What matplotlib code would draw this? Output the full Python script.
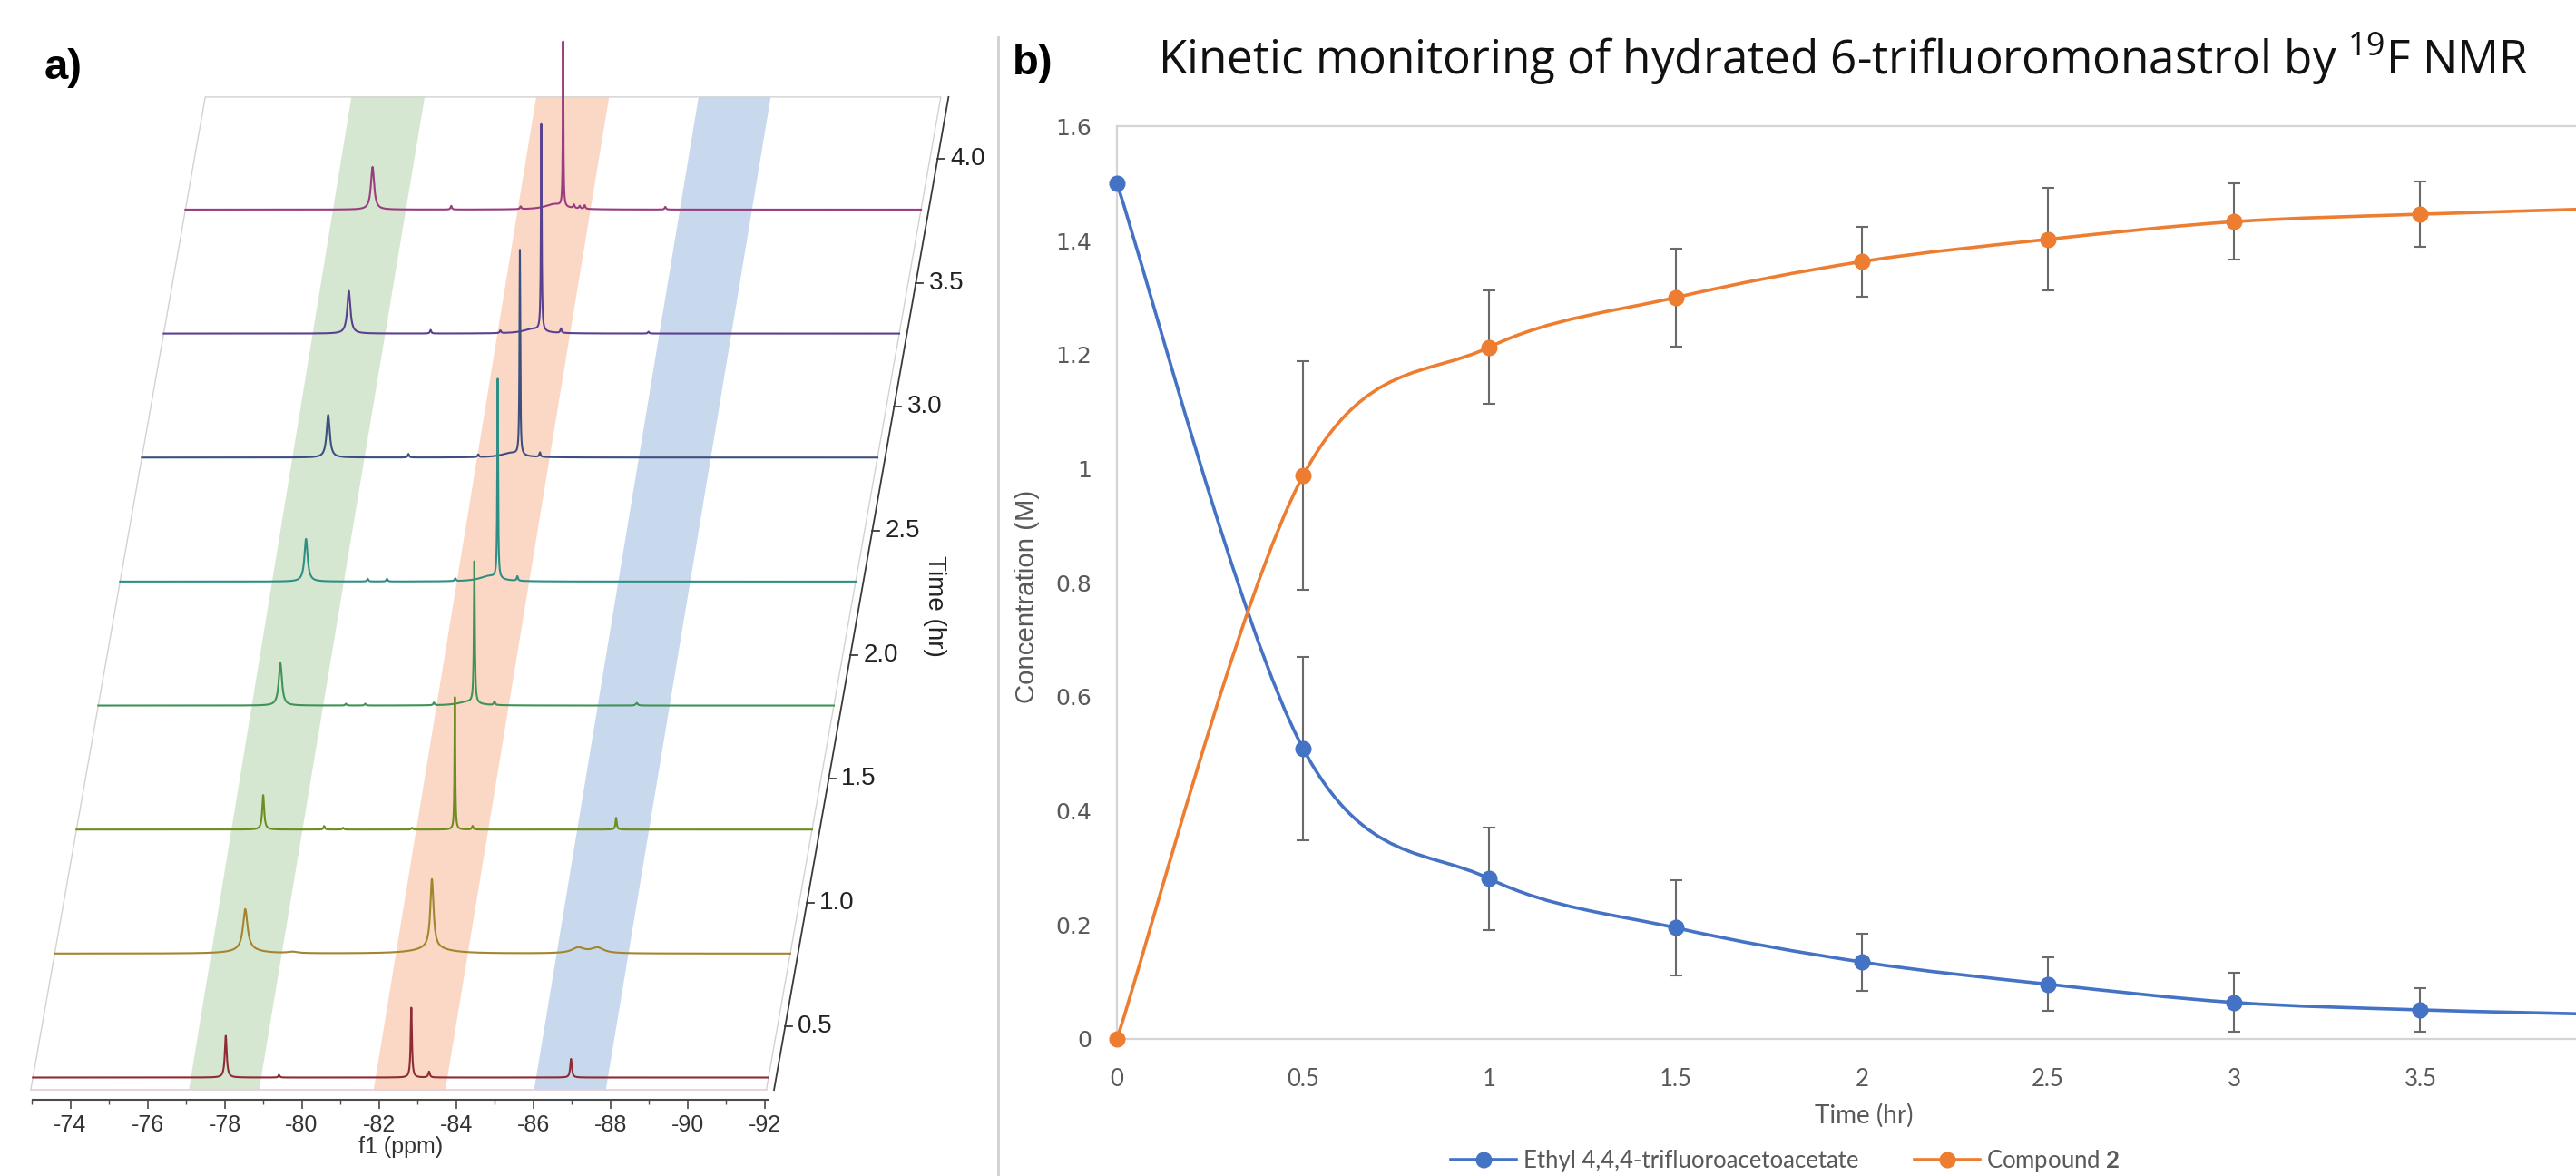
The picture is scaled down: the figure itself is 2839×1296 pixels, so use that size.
import numpy as np
import matplotlib
matplotlib.use("Agg")
import matplotlib.pyplot as plt
from matplotlib.path import Path
from matplotlib.patches import PathPatch, Polygon
from matplotlib.lines import Line2D

plt.rcParams['mathtext.fontset'] = 'custom'
plt.rcParams['mathtext.rm'] = 'Lato'
plt.rcParams['mathtext.bf'] = 'Lato:bold'

# ===================== DATA: panel b (kinetics) =====================
time_hr = [0, 0.5, 1, 1.5, 2, 2.5, 3, 3.5, 4]
ester_conc = [1.50, 0.509, 0.281, 0.195, 0.135, 0.096, 0.064, 0.051, 0.043]
ester_err = [0.0, 0.161, 0.090, 0.083, 0.050, 0.047, 0.052, 0.038, 0.035]
cmpd2_conc = [0.0, 0.988, 1.213, 1.300, 1.363, 1.402, 1.433, 1.446, 1.456]
cmpd2_err = [0.0, 0.200, 0.100, 0.086, 0.061, 0.090, 0.067, 0.057, 0.050]
series_names = ['Ethyl 4,4,4-trifluoroacetoacetate', 'Compound $\\mathbf{2}$']
conc_ticks = [0, 0.2, 0.4, 0.6, 0.8, 1.0, 1.2, 1.4, 1.6]
conc_tick_labels = ['0', '0.2', '0.4', '0.6', '0.8', '1', '1.2', '1.4', '1.6']
time_ticks = [0, 0.5, 1, 1.5, 2, 2.5, 3, 3.5]
time_tick_labels = ['0', '0.5', '1', '1.5', '2', '2.5', '3', '3.5']

# ===================== DATA: panel a (stacked 19F spectra) =====================
spectrum_times = [0.5, 1.0, 1.5, 2.0, 2.5, 3.0, 3.5, 4.0]
# peaks: (ppm, height [a.u.], half width [ppm])
peaks_t05 = [(-78.03, 46, 0.03), (-79.41, 3, 0.02), (-82.84, 77, 0.02),
             (-83.30, 6.5, 0.025), (-86.98, 20.5, 0.025)]
peaks_t10 = [(-77.97, 45, 0.07), (-78.0, 4, 0.4), (-79.2, 1.5, 0.15), (-82.81, 76, 0.05),
             (-82.8, 6, 0.5), (-86.6, 6, 0.2), (-87.1, 6, 0.2)]
peaks_t15 = [(-77.87, 38, 0.03), (-79.45, 4, 0.02), (-79.94, 2, 0.02), (-81.73, 2, 0.02),
             (-82.84, 146, 0.012), (-83.30, 4, 0.02), (-87.02, 13, 0.02)]
peaks_t20 = [(-77.75, 47, 0.05), (-79.45, 2, 0.02), (-79.95, 2, 0.02), (-81.73, 3, 0.02),
             (-82.78, 156, 0.015), (-82.6, 4, 0.3), (-83.30, 4, 0.02), (-86.99, 3, 0.03)]
peaks_t25 = [(-77.85, 47, 0.05), (-79.45, 3, 0.02), (-79.95, 3, 0.02), (-81.72, 3, 0.02),
             (-82.82, 220, 0.012), (-82.6, 6, 0.3), (-83.33, 5, 0.02)]
peaks_t30 = [(-77.86, 47, 0.05), (-79.94, 4, 0.02), (-81.75, 3, 0.02),
             (-82.83, 226, 0.012), (-82.6, 5, 0.3), (-83.35, 5, 0.02)]
peaks_t35 = [(-77.83, 47, 0.05), (-79.95, 4, 0.02), (-81.76, 3, 0.02),
             (-82.82, 228, 0.012), (-82.6, 5, 0.3), (-83.33, 5, 0.02), (-85.6, 2, 0.02)]
peaks_t40 = [(-77.88, 47, 0.05), (-79.92, 4, 0.02), (-81.72, 3, 0.02),
             (-82.82, 182, 0.01), (-82.6, 6, 0.3), (-83.10, 4, 0.02), (-83.25, 3, 0.02),
             (-83.38, 4, 0.02), (-85.47, 3, 0.02)]
spectrum_peaks = [peaks_t05, peaks_t10, peaks_t15, peaks_t20,
                  peaks_t25, peaks_t30, peaks_t35, peaks_t40]
ppm_ticks = [-74, -76, -78, -80, -82, -84, -86, -88, -90, -92]
ppm_tick_labels = ['-74', '-76', '-78', '-80', '-82', '-84', '-86', '-88', '-90', '-92']
ppm_minor_ticks = [-73, -75, -77, -79, -81, -83, -85, -87, -89, -91]
time_axis_ticks = [0.5, 1.0, 1.5, 2.0, 2.5, 3.0, 3.5, 4.0]
time_axis_labels = ['0.5', '1.0', '1.5', '2.0', '2.5', '3.0', '3.5', '4.0']
# highlight bands (ppm edges at bottom and at top of the stack)
band_bottom = [(-77.13, -78.95), (-81.92, -83.78), (-86.08, -87.94)]
band_top = [(-76.82, -78.72), (-81.61, -83.50), (-85.82, -87.69)]

# ===================== STYLE =====================
spectrum_colors = ['#8e2b35', '#a3852f', '#6e8c1f', '#3e9356',
                   '#2f8f86', '#3d4f7e', '#5a4190', '#9a3d80']
band_colors = ['#d6e7d1', '#fad8c5', '#c8d9ee']
BLUE = '#4472C4'
ORANGE = '#ED7D31'
GRAY_TXT = '#595959'
NARROW = ['Liberation Sans Narrow', 'Liberation Sans', 'DejaVu Sans']

W, H, DPI = 2839, 1296, 100
fig = plt.figure(figsize=(W / DPI, H / DPI), dpi=DPI)
fig.patch.set_facecolor('white')


def fx(px):
    return px / W


def fy(py):
    return 1 - py / H


# ===================== PANEL A =====================
PX_PPM0, PX_PER_PPM = 77.5, 42.51     # x pixel of -74 ppm, pixels per ppm
PY_T0, PX_PER_HR = 1187.5, 273.3      # y pixel of the 0.5 h baseline, pixels per hour
T_REF = 0.5
SHEAR = 1.13                           # ppm shift per hour (oblique projection)
PPM_LEFT, PPM_RIGHT = -73.03, -92.10
T_BOTTOM, T_TOP = 0.45, 4.454
T_AXIS = T_REF + (PY_T0 - 1211.7) / PX_PER_HR
TIME_AXIS_PPM = -92.30
TIME_LABEL_SHIFT = 0.205

ax_a = fig.add_axes([0, 0, fx(1100), 1])
ax_a.set_facecolor('none')
ax_a.set_xlim(-74 - (0 - PX_PPM0) / PX_PER_PPM, -74 - (1100 - PX_PPM0) / PX_PER_PPM)
ax_a.set_ylim(T_REF + (PY_T0 - H) / PX_PER_HR, T_REF + PY_T0 / PX_PER_HR)


def sx(ppm, t):
    return np.asarray(ppm, dtype=float) - SHEAR * (np.asarray(t, dtype=float) - T_REF)


# bands
for (b0, b1), (t0, t1), col in zip(band_bottom, band_top, band_colors):
    poly = Polygon([(sx(b0, T_BOTTOM), T_BOTTOM), (sx(b1, T_BOTTOM), T_BOTTOM),
                    (sx(t1, T_TOP), T_TOP), (sx(t0, T_TOP), T_TOP)],
                   closed=True, facecolor=col, edgecolor='none', zorder=1)
    ax_a.add_patch(poly)

# back plane outline
ax_a.plot([sx(PPM_LEFT, T_BOTTOM), sx(PPM_LEFT, T_TOP), sx(PPM_RIGHT, T_TOP), sx(PPM_RIGHT, T_BOTTOM)],
          [T_BOTTOM, T_TOP, T_TOP, T_BOTTOM], color='#d2d2d2', lw=1.0, zorder=1.5)
ax_a.plot([sx(PPM_LEFT, T_BOTTOM), sx(PPM_RIGHT, T_BOTTOM)], [T_BOTTOM, T_BOTTOM],
          color='#e8cfdb', lw=1.3, zorder=1.5)

# spectra
grid = np.linspace(PPM_LEFT, PPM_RIGHT, 16000)
for i, (t, peaks, col) in enumerate(zip(spectrum_times, spectrum_peaks, spectrum_colors)):
    inten = np.zeros_like(grid)
    for p0, h, g in peaks:
        inten += h * g ** 2 / ((grid - p0) ** 2 + g ** 2)
    ax_a.plot(sx(grid, t), t + inten / PX_PER_HR, color=col, lw=1.5,
              clip_on=False, zorder=10 - i, solid_joinstyle='round')

# f1 axis (real x axis, placed at the front edge)
for s in ['top', 'right', 'left']:
    ax_a.spines[s].set_visible(False)
ax_a.spines['bottom'].set_position(('data', T_AXIS))
ax_a.spines['bottom'].set_bounds(PPM_LEFT, PPM_RIGHT)
ax_a.spines['bottom'].set_color('#4a4a4a')
ax_a.spines['bottom'].set_linewidth(1.5)
ax_a.set_xticks(ppm_ticks)
ax_a.set_xticklabels(ppm_tick_labels, fontsize=18, family=NARROW, color='#333333')
ax_a.set_xticks(ppm_minor_ticks, minor=True)
ax_a.tick_params(axis='x', which='major', direction='out', length=7, width=1.2, color='#4a4a4a', pad=5)
ax_a.tick_params(axis='x', which='minor', direction='out', length=3.5, width=1.0, color='#4a4a4a')
ax_a.set_yticks([])
fig.text(fx(442), fy(1264), 'f1 (ppm)', ha='center', va='center', fontsize=18,
         family=NARROW, color='#333333')

# time axis (oblique)
ax_a.plot(sx(TIME_AXIS_PPM, [T_BOTTOM, T_TOP]), [T_BOTTOM, T_TOP], color='#3a3a3a', lw=1.3,
          clip_on=False, zorder=12)
for lab, txt in zip(time_axis_ticks, time_axis_labels):
    ts = lab + TIME_LABEL_SHIFT
    x0 = float(sx(TIME_AXIS_PPM, ts))
    ax_a.plot([x0, x0 - 0.17], [ts, ts], color='#3a3a3a', lw=1.3, clip_on=False, zorder=12)
    ax_a.text(x0 - 0.33, ts, txt, ha='left', va='center', fontsize=20, family=NARROW,
              color='#222222')
fig.text(fx(1030), fy(668), 'Time (hr)', rotation=-90, ha='center', va='center',
         fontsize=20, family=NARROW, color='#222222')

fig.text(fx(70), fy(75), 'a)', ha='center', va='center', fontsize=34, fontweight='bold',
         family=['Liberation Sans', 'DejaVu Sans'])

# divider
fig.add_artist(Line2D([fx(1100), fx(1100)], [0, fy(41)], transform=fig.transFigure,
                      color='#d0d0d0', lw=2))

# ===================== PANEL B =====================
X0_PX, PX_PER_HALF_HR = 1231, 205.2
ax_b = fig.add_axes([fx(X0_PX), fy(1145), 1 - fx(X0_PX), fy(139.3) - fy(1145)])
ax_b.set_xlim(0, (W - X0_PX) / (2 * PX_PER_HALF_HR))
ax_b.set_ylim(0, 1.6)
ax_b.set_facecolor('none')


def smooth_path(x, y):
    pts = np.column_stack([x, y]).astype(float)
    n = len(pts)
    verts = [pts[0]]
    codes = [Path.MOVETO]
    for i in range(n - 1):
        p0 = pts[max(i - 1, 0)]
        p1 = pts[i]
        p2 = pts[i + 1]
        p3 = pts[min(i + 2, n - 1)]
        verts += [p1 + (p2 - p0) / 6.0, p2 - (p3 - p1) / 6.0, p2]
        codes += [Path.CURVE4] * 3
    return Path(verts, codes)


for conc, err, col in [(ester_conc, ester_err, BLUE), (cmpd2_conc, cmpd2_err, ORANGE)]:
    ax_b.add_patch(PathPatch(smooth_path(time_hr, conc), fill=False, edgecolor=col,
                             lw=2.6, capstyle='round', joinstyle='round', zorder=3))
    idx = [k for k, e in enumerate(err) if e > 0]
    ax_b.errorbar([time_hr[k] for k in idx], [conc[k] for k in idx],
                  yerr=[err[k] for k in idx], fmt='none', ecolor='#6a6a6a',
                  elinewidth=1.5, capsize=5, capthick=1.5, zorder=4)
    ax_b.plot(time_hr, conc, 'o', ms=12, color=col, mec=col, clip_on=False, zorder=5)

for s in ['left', 'top', 'bottom']:
    ax_b.spines[s].set_color('#d4d4d4')
    ax_b.spines[s].set_linewidth(1.6)
ax_b.spines['right'].set_visible(False)
ax_b.set_yticks(conc_ticks)
ax_b.set_yticklabels(conc_tick_labels, fontsize=18, family='DejaVu Sans', color=GRAY_TXT)
ax_b.set_xticks(time_ticks)
ax_b.set_xticklabels(time_tick_labels, fontsize=18.5, family='Lato', color=GRAY_TXT)
ax_b.tick_params(axis='y', length=0, pad=20)
ax_b.tick_params(axis='x', length=0, pad=23)

fig.text(fx(2054), fy(1229), 'Time (hr)', ha='center', va='center', fontsize=20,
         family='Lato', color=GRAY_TXT)
ylab = fig.text(fx(1132), fy(657), 'Concentration (M)', rotation=90, ha='center', va='center',
                fontsize=19, family=NARROW, color=GRAY_TXT)

handles = [Line2D([], [], color=BLUE, lw=2.6, marker='o', ms=12),
           Line2D([], [], color=ORANGE, lw=2.6, marker='o', ms=12)]
leg = ax_b.legend(handles, series_names, loc='center', bbox_to_anchor=(fx(1968), fy(1279)),
                  bbox_transform=fig.transFigure, ncol=2, frameon=False,
                  prop={'family': 'Lato', 'size': 18.5}, handlelength=2.8,
                  columnspacing=2.4, handletextpad=0.3, borderpad=0.1)
for t in leg.get_texts():
    t.set_color(GRAY_TXT)

fig.text(fx(1138), fy(70), 'b)', ha='center', va='center', fontsize=34, fontweight='bold',
         family=['Liberation Sans', 'DejaVu Sans'])
title = fig.text(fx(2031), fy(82), 'Kinetic monitoring of hydrated 6-trifluoromonastrol by '
                 '$\\mathregular{^{19}}$F NMR', ha='center', va='baseline', fontsize=31,
                 family='Open Sans', color='#111111')

# fit title / ylabel to measured extents
renderer = fig.canvas.get_renderer()
w = title.get_window_extent(renderer).width
title.set_fontsize(title.get_fontsize() * 1509.0 / w)
hgt = ylab.get_window_extent(renderer).height
ylab.set_fontsize(ylab.get_fontsize() * 235.0 / hgt)

fig.savefig('out.png', dpi=DPI, facecolor='white')
